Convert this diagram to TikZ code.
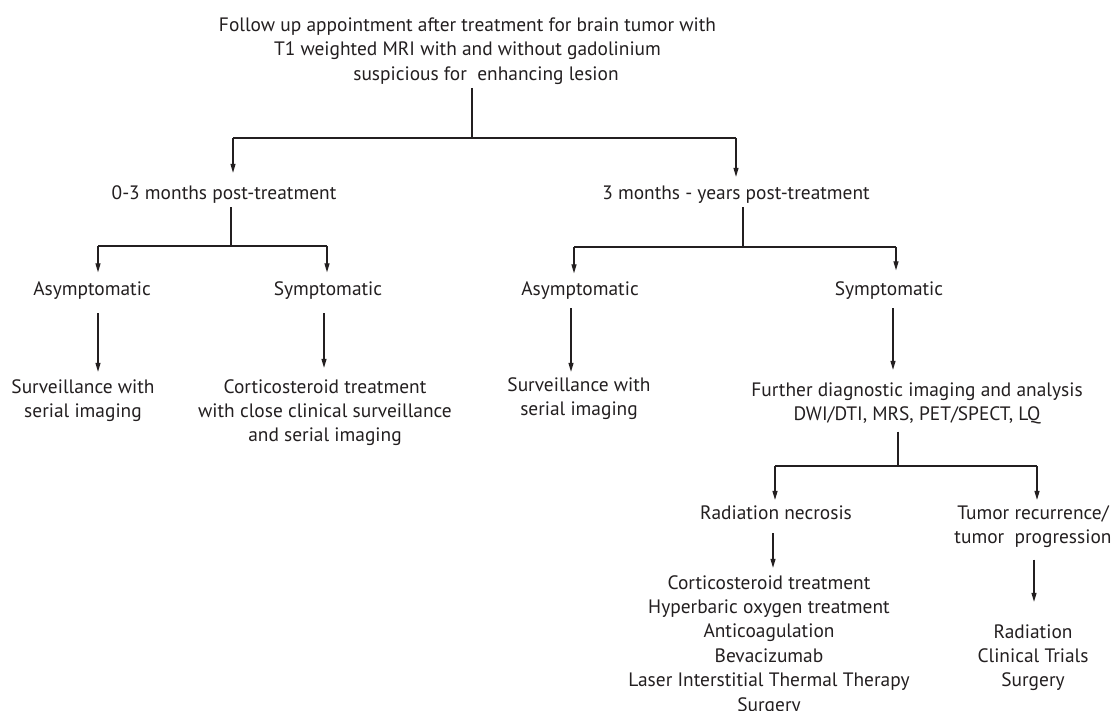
\documentclass[tikz,border=0pt]{standalone}
\usepackage{fontspec}
\setmainfont{PT Sans}
\usetikzlibrary{arrows.meta}
\definecolor{ink}{HTML}{231F20}
\newcommand{\mlines}[1]{\begin{tabular}[t]{@{}c@{}}#1\end{tabular}}
\begin{document}
\begin{tikzpicture}[x=1pt,y=-1pt,
  lbl/.style={inner sep=0pt, anchor=base, font=\fontsize{19.4}{24.4}\selectfont, text=ink},
  link/.style={draw=ink, line width=1.2pt},
  arr/.style={link, -{Triangle[length=9pt,width=5pt]}}]
\useasboundingbox (0,0) rectangle (1116,711);
\fill[white] (0,0) rectangle (1116,711);

% nodes
\node[lbl] (top) at (467.5,31.5) {\mlines{Follow up appointment after treatment for brain tumor with\\ T1 weighted MRI with and without gadolinium\\ \hspace*{37pt}suspicious for\ \ enhancing lesion}};
\node[lbl] (n03) at (224,199.5) {\mlines{0-3 months post-treatment}};
\node[lbl] (n3y) at (736,199.5) {\mlines{3 months - years post-treatment}};
\node[lbl] (aL) at (92,295) {\mlines{Asymptomatic}};
\node[lbl] (sL) at (328,295) {\mlines{Symptomatic}};
\node[lbl] (aR) at (580,295) {\mlines{Asymptomatic}};
\node[lbl] (sR) at (889,295) {\mlines{Symptomatic}};
\node[lbl] (svL) at (83,393) {\mlines{Surveillance with\\ serial imaging}};
\node[lbl] (csL) at (325,393) {\mlines{Corticosteroid treatment\\ with close clinical surveillance\\ and serial imaging}};
\node[lbl] (svR) at (579,391) {\mlines{Surveillance with\\ serial imaging}};
\node[lbl] (fd) at (917,396) {\mlines{Further diagnostic imaging and analysis\\ DWI/DTI, MRS, PET/SPECT, LQ}};
\node[lbl] (rn) at (776,519) {\mlines{Radiation necrosis}};
\node[lbl] (tr) at (1033,519) {\mlines{Tumor recurrence/\\ tumor\ \ progression}};
\node[lbl] (rnl) at (769,589) {\mlines{Corticosteroid treatment\\ Hyperbaric oxygen treatment\\ Anticoagulation\\ Bevacizumab\\ Laser Interstitial Thermal Therapy\\ Surgery}};
\node[lbl] (trl) at (1033,638) {\mlines{Radiation\\ Clinical Trials\\ Surgery}};

% junction coordinates
\coordinate (j0) at (472,138);
\coordinate (j0l) at (233,138);
\coordinate (j0r) at (736,138);
\coordinate (j1) at (231,246);
\coordinate (j1l) at (98,246);
\coordinate (j1r) at (327,246);
\coordinate (j2) at (743,247);
\coordinate (j2l) at (574,247);
\coordinate (j2r) at (896,247);
\coordinate (j3) at (898,466);
\coordinate (j3l) at (775,466);
\coordinate (j3r) at (1037,466);
\coordinate (cA) at (98,0);
\coordinate (cB) at (324,0);
\coordinate (cC) at (571,0);
\coordinate (cD) at (893,0);
\coordinate (cE) at (773,0);
\coordinate (cF) at (1034,0);

% level 1
\draw[link] (top.south -| j0) -- (j0);
\draw[link] (j0l) -- (j0r);
\draw[arr, shorten >=9.4pt] (j0l) -- (n03.north -| j0l);
\draw[arr, shorten >=5.4pt] (j0r) -- (n3y.north -| j0r);

% left branch
\draw[link] (n03.south -| j1) -- (j1);
\draw[link] (j1l) -- (j1r);
\draw[arr, shorten >=5.4pt] (j1l) -- (aL.north -| j1l);
\draw[arr, shorten >=5.4pt] (j1r) -- (sL.north -| j1r);
\draw[arr, shorten <=10.7pt, shorten >=3.9pt] (aL.south -| cA) -- (svL.north -| cA);
\draw[arr, shorten <=10.7pt, shorten >=7.9pt] (sL.south -| cB) -- (csL.north -| cB);

% right branch
\draw[link] (n3y.south -| j2) -- (j2);
\draw[link] (j2l) -- (j2r);
\draw[arr, shorten >=4.4pt] (j2l) -- (aR.north -| j2l);
\draw[arr, shorten >=7.4pt] (j2r) -- (sR.north -| j2r);
\draw[arr, shorten <=5.7pt, shorten >=1.9pt] (aR.south -| cC) -- (svR.north -| cC);
\draw[arr, shorten <=5.7pt, shorten >=8.9pt] (sR.south -| cD) -- (fd.north -| cD);

% further diagnostics
\draw[link, shorten <=3.7pt] (fd.south -| j3) -- (j3);
\draw[link] (j3l) -- (j3r);
\draw[arr, shorten >=1.8pt] (j3l) -- (rn.north -| j3l);
\draw[arr, shorten >=1.8pt] (j3r) -- (tr.north -| j3r);
\draw[arr, shorten <=6.7pt, shorten >=3.9pt] (rn.south -| cE) -- (rnl.north -| cE);
\draw[arr, shorten <=8.7pt, shorten >=18.9pt] (tr.south -| cF) -- (trl.north -| cF);
\end{tikzpicture}
\end{document}
